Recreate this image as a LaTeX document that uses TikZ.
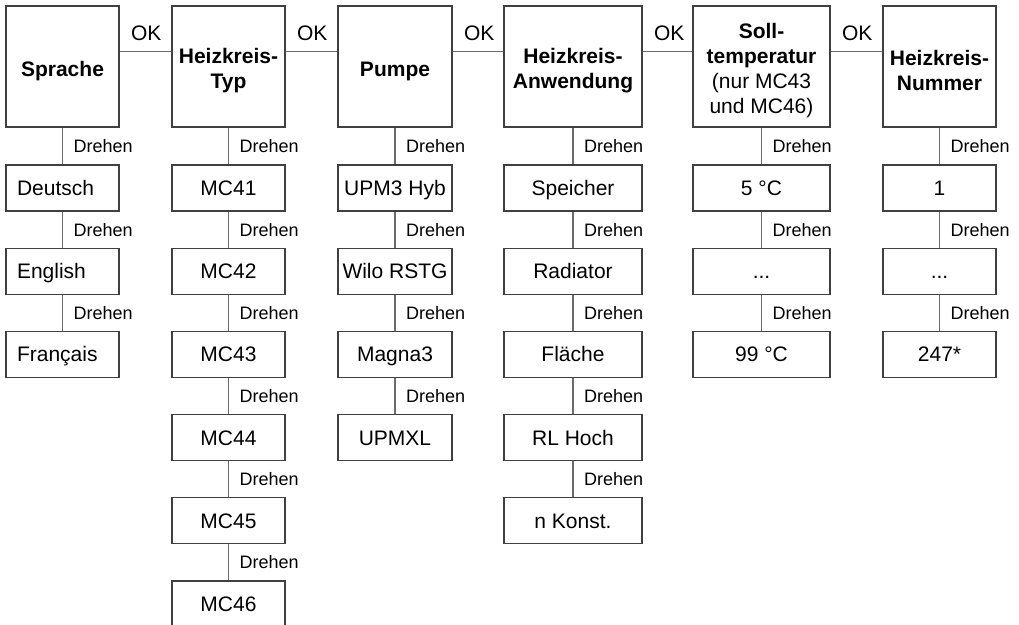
\documentclass[tikz,border=0pt]{standalone}
\usepackage{fontspec}
\setmainfont{Liberation Sans}
\definecolor{boxcol}{rgb}{0.25,0.25,0.25}
\definecolor{linecol}{rgb}{0.42,0.42,0.42}
\newcommand\mkchain[5]{% #1 prefix, #2 x centre, #3 width, #4 extra style, #5 items
  \foreach \t [count=\i] in {#5} {
    \pgfmathtruncatemacro\j{\i-1}
    \node[subbox, minimum width=#3pt, #4] (#1\i) at (#2, {188+83.2*(\i-1)}) {\t};
    \draw[conn] (#1\j.south) -- (#1\i.north) node[drh] {Drehen};
  }%
}
\newcommand\threedots{.\kern0pt.\kern0pt.}
\newcommand\hs{\rule{0pt}{24pt}}
\begin{document}
\begin{tikzpicture}[x=1pt, y=-1pt,
  every node/.style={font=\fontsize{21}{25}\selectfont, text=black},
  hdr/.style={draw=boxcol, line width=1.1pt, minimum height=121pt, inner sep=0pt, align=center},
  subbox/.style={draw=boxcol, line width=1.1pt, minimum height=46pt, inner sep=0pt, text height=15pt, text depth=0pt},
  leftbox/.style={text width=91pt, inner xsep=11pt, align=left},
  conn/.style={draw=linecol, line width=1.1pt},
  drh/.style={midway, anchor=west, inner sep=0pt, xshift=10.5pt, font=\fontsize{18}{21}\selectfont},
  oklbl/.style={pos=0, anchor=base west, inner sep=0pt, xshift=11pt, yshift=11pt}
]
\useasboundingbox (0,0) rectangle (1019,624);
% header boxes
\node[hdr, minimum width=113pt] (a0) at (62.5,66.5) {\hs\textbf{Sprache}};
\node[hdr, minimum width=113pt] (b0) at (228.5,66.5) {\hs\textbf{Heizkreis-}\\\textbf{Typ}};
\node[hdr, minimum width=114pt] (c0) at (395,66.5) {\hs\textbf{Pumpe}};
\node[hdr, minimum width=138pt] (d0) at (573,66.5) {\hs\textbf{Heizkreis-}\\\textbf{Anwendung}};
\node[hdr, minimum width=137pt] (e0) at (761.5,66.5) {\hs\textbf{Soll-}\\\textbf{temperatur}\\(nur MC43\\und MC46)};
\node[hdr, minimum width=113pt] (f0) at (939.5,66.5) {\hs\textbf{Heizkreis-}\\\textbf{Nummer}};
% OK connectors
\draw[conn] ([yshift=-46pt]a0.north east) -- ([yshift=-46pt]b0.north west) node[oklbl] {OK};
\draw[conn] ([yshift=-46pt]b0.north east) -- ([yshift=-46pt]c0.north west) node[oklbl] {OK};
\draw[conn] ([yshift=-46pt]c0.north east) -- ([yshift=-46pt]d0.north west) node[oklbl] {OK};
\draw[conn] ([yshift=-46pt]d0.north east) -- ([yshift=-46pt]e0.north west) node[oklbl] {OK};
\draw[conn] ([yshift=-46pt]e0.north east) -- ([yshift=-46pt]f0.north west) node[oklbl] {OK};
% option chains
\mkchain{a}{62.5}{113}{leftbox}{Deutsch,English,Français}
\mkchain{b}{228.5}{113}{}{MC41,MC42,MC43,MC44,MC45,MC46}
\mkchain{c}{395}{114}{}{UPM3 Hyb,Wilo RSTG,Magna3,UPMXL}
\mkchain{d}{573}{138}{}{Speicher,Radiator,Fläche,RL Hoch,n Konst.}
\mkchain{e}{761.5}{137}{}{{5 °C},{\threedots},{99 °C}}
\mkchain{f}{939.5}{113}{}{{1},{\threedots},{247*}}
\end{tikzpicture}
\end{document}
